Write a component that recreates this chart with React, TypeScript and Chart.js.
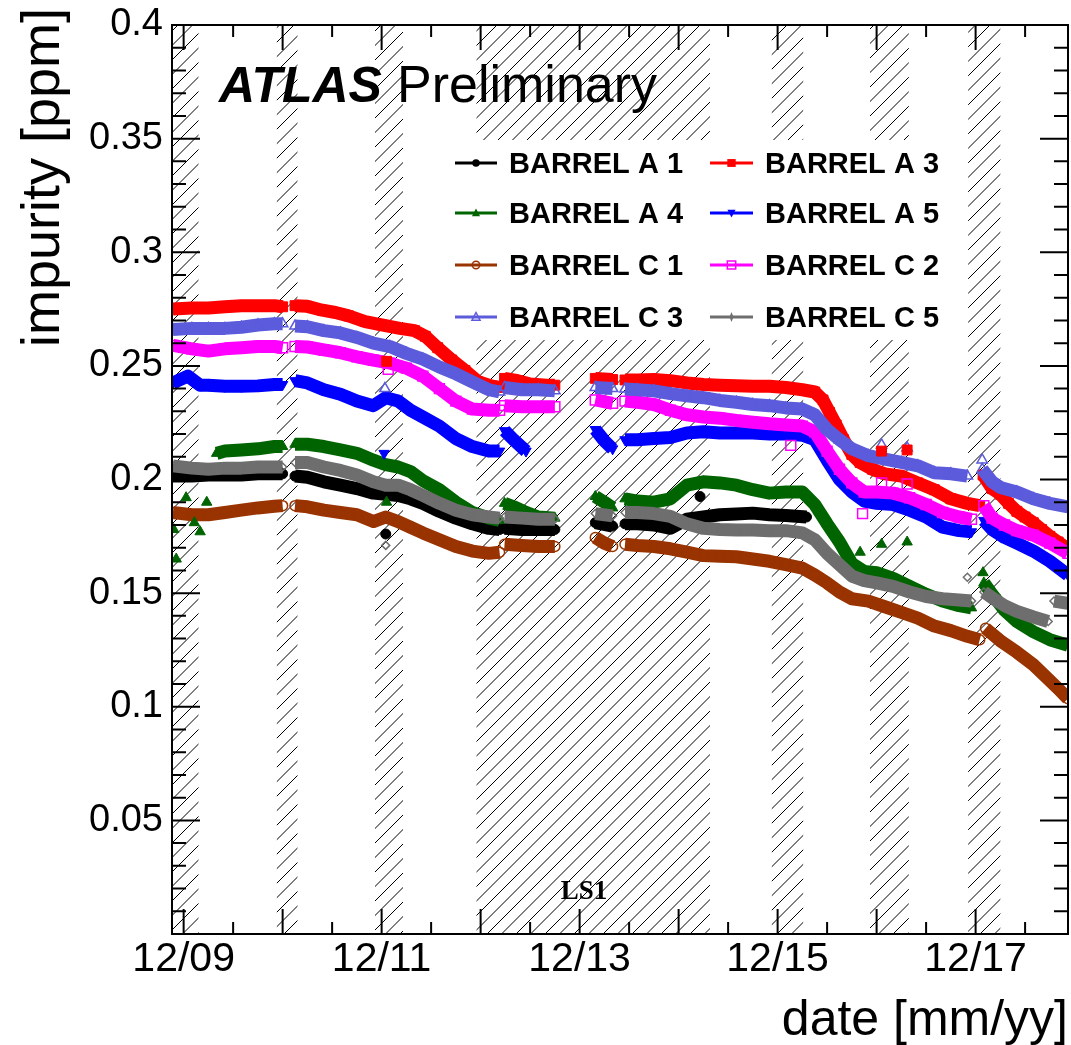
import React, { useEffect, useRef } from 'react';
import { Chart, registerables } from 'chart.js';

Chart.register(...registerables);

type Pt = [number, number | null];

// x values are months counted from Jan 2009 (so 12/09 = 11)
const X_MIN = 9.59;
const X_MAX = 118.2;
const X_LABEL_MONTHS = [11, 35, 59, 83, 107];
const X_TICK_LABELS = ['12/09', '12/11', '12/13', '12/15', '12/17'];
const Y_TICK_VALUES = [0, 0.05, 0.1, 0.15, 0.2, 0.25, 0.3, 0.35, 0.4];
const Y_TICK_LABELS = ['', '0.05', '0.1', '0.15', '0.2', '0.25', '0.3', '0.35', '0.4'];

// hatched periods (no beam / shutdowns), in months
const SHUTDOWNS: [number, number][] = [
  [9.59, 12.8], [22.3, 24.8], [34.2, 37.6], [46.5, 74.8], [82.3, 86.1], [94.2, 98.9], [106.1, 110.0],
];

const A1: Pt[] = [
  [9.7, 0.2015], [12, 0.2015], [14, 0.202], [16, 0.202], [18, 0.202], [20, 0.2025], [22, 0.2025], [23, 0.2025], [23.8, null],
  [24.5, 0.2015], [26, 0.201], [28, 0.199], [30, 0.1975], [32, 0.196], [34, 0.194], [35.5, 0.1935], [37, 0.193], [38.5, 0.1915], [40, 0.1895], [42, 0.186], [44, 0.183], [46, 0.1805], [48, 0.1785], [49.3, 0.178], [49.6, null],
  [49.9, 0.1785], [52, 0.178], [54, 0.178], [56, 0.178], [58, null],
  [60.9, 0.181], [63, 0.1795], [63.8, null],
  [64.5, 0.1805], [66, 0.1805], [68, 0.18], [70, 0.1785], [72, 0.1825], [74, 0.1835], [76, 0.1845], [78, 0.1848], [80, 0.1852], [82, 0.1845], [84, 0.1842], [86.5, 0.1835],
];
const A1_OUT: Pt[] = [[35.5, 0.176], [73.6, 0.1925]];

const A3: Pt[] = [
  [9.7, 0.275], [12, 0.2755], [14, 0.2755], [16, 0.276], [18, 0.2765], [20, 0.2765], [22, 0.2765], [23, 0.276], [23.8, null],
  [24.5, 0.2765], [26, 0.2762], [27.8, 0.2745], [29.4, 0.2735], [31, 0.272], [33, 0.2695], [35, 0.268], [37.2, 0.2665], [39, 0.2655], [40.3, 0.263], [41.8, 0.258], [43.5, 0.2526], [45.1, 0.248], [46.7, 0.243], [48.4, 0.2411], [49.3, 0.2405], [49.6, null],
  [49.9, 0.2445], [51.5, 0.2435], [53, 0.242], [55, 0.2415], [56, 0.2415], [58, null],
  [60.9, 0.2445], [63, 0.244], [63.8, null],
  [64.5, 0.2438], [66, 0.2438], [68, 0.244], [70, 0.2435], [72, 0.2425], [74, 0.2418], [76, 0.2415], [78, 0.2413], [80, 0.241], [82, 0.241], [84, 0.2405], [86, 0.2395], [87.5, 0.2385], [88.5, 0.235], [89.3, 0.2295], [90.1, 0.224], [91, 0.2175], [92, 0.211], [93, 0.2075], [94.5, 0.2045], [96, 0.2025], [98, 0.2015], [100, 0.1985], [102, 0.1955], [104, 0.1915], [106, 0.1895], [107.5, 0.1885], [107.7, null],
  [107.9, 0.202], [109, 0.196], [110, 0.1935], [111, 0.1895], [112, 0.186], [113, 0.1835], [114, 0.181], [115, 0.178], [116, 0.175], [117, 0.1725], [118.2, 0.1695],
];
const A3_OUT: Pt[] = [[35.6, 0.252], [95.6, 0.2125], [98.7, 0.213]];

const A4: Pt[] = [
  [15, 0.2115], [16, 0.2125], [18, 0.213], [20, 0.2135], [22, 0.2145], [23, 0.2145], [23.8, null],
  [24.5, 0.2155], [26, 0.2155], [28, 0.2145], [30, 0.213], [32, 0.2115], [34, 0.2085], [35.5, 0.2065], [37, 0.2055], [38.5, 0.2035], [40, 0.1995], [42, 0.1955], [44, 0.19], [46, 0.1855], [48, 0.183], [49.3, 0.182], [49.6, null],
  [49.9, 0.1895], [51, 0.188], [52.5, 0.1855], [54, 0.1835], [56, 0.183], [58, null],
  [60.9, 0.1925], [62, 0.19], [63, 0.1875], [63.8, null],
  [64.5, 0.1915], [66, 0.1905], [68, 0.19], [70, 0.1915], [72, 0.1975], [74, 0.199], [76, 0.1985], [78, 0.1975], [80, 0.1955], [82, 0.194], [84, 0.1945], [86, 0.1945], [87.5, 0.189], [89, 0.1805], [90.5, 0.1725], [92, 0.163], [93.5, 0.1595], [95, 0.159], [97, 0.1565], [99, 0.153], [101, 0.1495], [103, 0.1465], [105, 0.1445], [106.5, 0.1435], [107.5, null],
  [108, 0.1545], [109, 0.1495], [110.5, 0.1425], [112, 0.1375], [114, 0.133], [116, 0.1295], [118.2, 0.127],
];
const A4_OUT: Pt[] = [[9.8, 0.178], [10.1, 0.165], [11.3, 0.192], [12.3, 0.181], [13.0, 0.177], [13.8, 0.19], [35.6, 0.19], [93.0, 0.168], [95.6, 0.1715], [98.7, 0.1725], [107.9, 0.159]];

const A5: Pt[] = [
  [9.7, 0.2425], [11.5, 0.2455], [13, 0.2415], [14, 0.2415], [16, 0.241], [18, 0.241], [20, 0.2412], [22, 0.2418], [23, 0.2418], [23.8, null],
  [24.5, 0.2435], [26, 0.2425], [28, 0.2395], [30, 0.2375], [32, 0.2345], [34, 0.2325], [35.5, 0.236], [37, 0.2345], [38.5, 0.2305], [40, 0.2275], [42, 0.2235], [44, 0.218], [46, 0.2145], [48, 0.2125], [49.3, 0.2125], [49.6, null],
  [49.9, 0.2215], [51, 0.2175], [52.5, 0.2125], [58, null],
  [60.9, 0.222], [62, 0.217], [63, 0.2135], [63.8, null],
  [64.5, 0.2175], [66, 0.2175], [68, 0.218], [70, 0.2185], [72, 0.2205], [74, 0.221], [76, 0.2205], [78, 0.2205], [80, 0.2205], [82, 0.22], [84, 0.22], [86, 0.2195], [87.5, 0.2175], [89, 0.2085], [90.5, 0.2], [92, 0.1945], [93.5, 0.1905], [95, 0.1895], [97, 0.189], [99, 0.1865], [101, 0.1835], [103, 0.179], [105, 0.1775], [106.5, 0.177], [107.5, null],
  [108, 0.182], [109, 0.178], [110.5, 0.1745], [112, 0.172], [114, 0.1685], [116, 0.164], [118.2, 0.158],
];
const A5_OUT: Pt[] = [[35.3, 0.2115]];

const C1: Pt[] = [
  [9.7, 0.1855], [12, 0.1845], [14, 0.1845], [16, 0.1855], [18, 0.1865], [20, 0.1875], [22, 0.1882], [23, 0.1885], [23.8, null],
  [24.5, 0.1885], [26, 0.188], [28, 0.1865], [30, 0.1855], [32, 0.1845], [34, 0.1815], [35.5, 0.1835], [37, 0.1815], [38.5, 0.179], [40, 0.1765], [42, 0.1735], [44, 0.1705], [46, 0.1685], [48, 0.1675], [49.3, 0.168], [49.6, null],
  [49.9, 0.1715], [52, 0.171], [54, 0.1705], [56, 0.1705], [58, null],
  [60.9, 0.1745], [62, 0.172], [63, 0.1705], [63.8, null],
  [64.5, 0.1715], [66, 0.171], [68, 0.1705], [70, 0.1695], [72, 0.168], [74, 0.1665], [76, 0.1662], [78, 0.166], [80, 0.165], [82, 0.164], [84, 0.1625], [86, 0.161], [87.5, 0.158], [89, 0.1545], [90.5, 0.1505], [92, 0.1475], [94, 0.1465], [96, 0.144], [98, 0.1415], [100, 0.139], [102, 0.1355], [104, 0.1335], [106, 0.131], [107.5, 0.1295], [107.7, null],
  [108.2, 0.1345], [110, 0.129], [112, 0.124], [114, 0.1185], [116, 0.1115], [117, 0.108], [118.2, 0.1035],
];

const C2: Pt[] = [
  [9.7, 0.259], [12, 0.2575], [14, 0.2565], [16, 0.2575], [18, 0.258], [20, 0.2585], [22, 0.2585], [23, 0.258], [23.8, null],
  [24.5, 0.2585], [26, 0.2583], [28, 0.257], [30, 0.2558], [32, 0.254], [34, 0.2525], [36, 0.2512], [38, 0.249], [40, 0.2455], [42, 0.24], [44, 0.2345], [46, 0.231], [48, 0.2305], [49.3, 0.2305], [49.6, null],
  [49.9, 0.2325], [52, 0.232], [54, 0.232], [56, 0.232], [58, null],
  [60.9, 0.235], [63, 0.2335], [63.8, null],
  [64.5, 0.2345], [66, 0.234], [68, 0.233], [70, 0.2305], [72, 0.2285], [74, 0.2275], [76, 0.227], [78, 0.226], [80, 0.2252], [82, 0.2245], [84, 0.224], [86, 0.2235], [87.5, 0.221], [89, 0.2125], [90.5, 0.2045], [92, 0.1985], [93.5, 0.1945], [95, 0.1945], [97, 0.194], [99, 0.192], [101, 0.189], [103, 0.1855], [105, 0.1835], [106.5, 0.1825], [107.5, null],
  [108, 0.1885], [109, 0.183], [110.5, 0.18], [112, 0.1775], [114, 0.1755], [116, 0.172], [118.2, 0.1675],
];
const C2_OUT: Pt[] = [[35.8, 0.2485], [84.6, 0.215], [93.3, 0.185], [95.6, 0.1985], [98.7, 0.198]];

const C3: Pt[] = [
  [9.7, 0.266], [12, 0.2665], [14, 0.2665], [16, 0.2665], [18, 0.267], [20, 0.268], [22, 0.2685], [23, 0.2685], [23.8, null],
  [24.5, 0.2675], [26, 0.2672], [28, 0.2655], [30, 0.2645], [32, 0.2625], [34, 0.26], [36, 0.2585], [38, 0.2555], [40, 0.253], [42, 0.2495], [44, 0.2465], [46, 0.243], [48, 0.2395], [49.3, 0.2385], [49.6, null],
  [49.9, 0.2405], [52, 0.2395], [54, 0.2395], [56, 0.239], [58, null],
  [60.9, 0.2405], [63, 0.24], [63.8, null],
  [64.5, 0.2398], [66, 0.2395], [68, 0.239], [70, 0.2378], [72, 0.2368], [74, 0.236], [76, 0.2348], [78, 0.234], [80, 0.233], [82, 0.2325], [84, 0.2315], [86, 0.231], [87.5, 0.2285], [89, 0.222], [90.5, 0.2175], [92, 0.2135], [94, 0.2105], [96, 0.209], [98, 0.2075], [100, 0.206], [102, 0.203], [104, 0.2025], [106, 0.2015], [107.5, null],
  [107.8, 0.2045], [109, 0.199], [110, 0.1965], [112, 0.1945], [114, 0.1915], [116, 0.1895], [118.2, 0.188],
];
const C3_OUT: Pt[] = [[35.4, 0.24], [95.6, 0.2152], [98.7, 0.2139], [107.8, 0.2086]];

const C5: Pt[] = [
  [9.7, 0.206], [12, 0.205], [14, 0.2045], [16, 0.205], [18, 0.205], [20, 0.2055], [22, 0.2055], [23, 0.2055], [23.8, null],
  [24.5, 0.2075], [26, 0.2075], [28, 0.2055], [30, 0.204], [32, 0.202], [34, 0.199], [35.5, 0.1975], [37, 0.1975], [38.5, 0.1955], [40, 0.193], [42, 0.1895], [44, 0.1865], [46, 0.1845], [48, 0.1835], [49.3, 0.183], [49.6, null],
  [49.9, 0.1835], [52, 0.183], [54, 0.1825], [56, 0.1825], [58, null],
  [60.9, 0.185], [63, 0.184], [63.8, null],
  [64.5, 0.1855], [66, 0.1855], [68, 0.185], [70, 0.1838], [72, 0.1805], [74, 0.1785], [76, 0.178], [78, 0.1778], [80, 0.1778], [82, 0.1775], [84, 0.1775], [86, 0.1765], [87.5, 0.1735], [89, 0.1675], [90.5, 0.1625], [92, 0.1575], [93.5, 0.1555], [95, 0.1545], [97, 0.153], [99, 0.1505], [101, 0.1485], [103, 0.1475], [105, 0.147], [106.5, 0.1465], [107.5, null],
  [108, 0.1505], [109, 0.148], [110.5, 0.1445], [112, 0.142], [114, 0.1395], [115.8, 0.1375], [116.2, null],
  [116.5, 0.1465], [118.2, 0.1455],
];
const C5_OUT: Pt[] = [[35.5, 0.171], [106.0, 0.157]];

const SERIES_NAMES = ['BARREL A 1', 'BARREL A 3', 'BARREL A 4', 'BARREL A 5', 'BARREL C 1', 'BARREL C 2', 'BARREL C 3', 'BARREL C 5'];
const SERIES_DATA = [A1, A3, A4, A5, C1, C2, C3, C5];
const SERIES_OUTLIERS = [A1_OUT, A3_OUT, A4_OUT, A5_OUT, [] as Pt[], C2_OUT, C3_OUT, C5_OUT];

type Style = { color: string; marker: string; filled: boolean; rot: number; r: number };
const STYLES: Style[] = [
  { color: '#000000', marker: 'circle', filled: true, rot: 0, r: 5 },
  { color: '#ff0000', marker: 'rect', filled: true, rot: 0, r: 7 },
  { color: '#006400', marker: 'triangle', filled: true, rot: 0, r: 6 },
  { color: '#0000ff', marker: 'triangle', filled: true, rot: 180, r: 6 },
  { color: '#993300', marker: 'circle', filled: false, rot: 0, r: 5 },
  { color: '#ff00ff', marker: 'rect', filled: false, rot: 0, r: 7 },
  { color: '#5b5bdc', marker: 'triangle', filled: false, rot: 0, r: 6 },
  { color: '#6e6e6e', marker: 'rectRot', filled: false, rot: 0, r: 4 },
];

const FONT = '"Liberation Sans", Arial, sans-serif';

function drawMarker(ctx: CanvasRenderingContext2D, s: Style, x: number, y: number, r: number) {
  ctx.save();
  ctx.translate(x, y);
  ctx.rotate((s.rot * Math.PI) / 180);
  ctx.beginPath();
  if (s.marker === 'circle') ctx.arc(0, 0, r, 0, Math.PI * 2);
  else if (s.marker === 'rect') ctx.rect(-r * 0.8, -r * 0.75, r * 1.6, r * 1.5);
  else if (s.marker === 'triangle') {
    ctx.moveTo(0, -r);
    ctx.lineTo(r * 0.9, r * 0.7);
    ctx.lineTo(-r * 0.9, r * 0.7);
    ctx.closePath();
  } else {
    ctx.moveTo(0, -r);
    ctx.lineTo(r * 0.4, 0);
    ctx.lineTo(0, r);
    ctx.lineTo(-r * 0.4, 0);
    ctx.closePath();
  }
  if (s.filled) {
    ctx.fillStyle = s.color;
    ctx.fill();
  } else {
    ctx.strokeStyle = s.color;
    ctx.lineWidth = 1.5;
    ctx.stroke();
  }
  ctx.restore();
}

const hatchPlugin = {
  id: 'hatch',
  beforeDatasetsDraw(chart: any) {
    const { ctx, chartArea: a } = chart;
    const xs = chart.scales.x;
    const step = 14.5;
    ctx.save();
    ctx.strokeStyle = '#000';
    ctx.lineWidth = 1;
    for (const [m0, m1] of SHUTDOWNS) {
      const x0 = Math.max(a.left, xs.getPixelForValue(m0));
      const x1 = Math.min(a.right, xs.getPixelForValue(m1));
      ctx.save();
      ctx.beginPath();
      ctx.rect(x0, a.top, x1 - x0, a.bottom - a.top);
      ctx.clip();
      ctx.beginPath();
      const c0 = Math.floor((x0 + a.top) / step) * step;
      for (let c = c0; c <= x1 + a.bottom + step; c += step) {
        ctx.moveTo(c - a.bottom, a.bottom);
        ctx.lineTo(c - a.top, a.top);
      }
      ctx.stroke();
      ctx.restore();
    }
    ctx.restore();
  },
};

const overlayPlugin = {
  id: 'overlay',
  afterDatasetsDraw(chart: any) {
    const { ctx, chartArea: a } = chart;
    const xs = chart.scales.x;
    const ys = chart.scales.y;
    ctx.save();

    // legend box
    ctx.fillStyle = '#fff';
    ctx.fillRect(445, 140, 515, 200);
    const rows = [163, 213, 265, 317];
    const cols = [{ l0: 455, l1: 497, t: 509 }, { l0: 710, l1: 753, t: 765 }];
    ctx.font = `bold 29px ${FONT}`;
    ctx.textBaseline = 'alphabetic';
    ctx.textAlign = 'left';
    SERIES_NAMES.forEach((name, i) => {
      const r = rows[Math.floor(i / 2)];
      const c = cols[i % 2];
      const s = STYLES[i];
      ctx.strokeStyle = s.color;
      ctx.lineWidth = 3;
      ctx.beginPath();
      ctx.moveTo(c.l0, r);
      ctx.lineTo(c.l1, r);
      ctx.stroke();
      drawMarker(ctx, s, (c.l0 + c.l1) / 2, r, s.r * 0.75);
      ctx.fillStyle = '#000';
      ctx.fillText(name, c.t, r + 10);
    });

    // ATLAS Preliminary
    ctx.fillStyle = '#000';
    ctx.font = `italic bold 50px ${FONT}`;
    ctx.fillText('ATLAS', 219, 102);
    ctx.font = `52px ${FONT}`;
    ctx.fillText('Preliminary', 397, 102);

    // LS1
    ctx.font = 'bold 27px "Liberation Serif", "Times New Roman", serif';
    ctx.textAlign = 'center';
    ctx.fillText('LS1', 584, 899);

    // frame
    ctx.strokeStyle = '#000';
    ctx.lineWidth = 2;
    ctx.strokeRect(a.left, a.top, a.right - a.left, a.bottom - a.top);

    // ticks (inward, all four sides)
    ctx.lineWidth = 2;
    ctx.beginPath();
    for (let m = -1; m <= 131; m += 6) {
      if (m < X_MIN || m > X_MAX) continue;
      const px = xs.getPixelForValue(m);
      const len = (m - 11) % 12 === 0 ? 25 : 12;
      ctx.moveTo(px, a.bottom);
      ctx.lineTo(px, a.bottom - len);
      ctx.moveTo(px, a.top);
      ctx.lineTo(px, a.top + len);
    }
    for (let k = 0; k <= 40; k++) {
      const py = ys.getPixelForValue(k / 100);
      const len = k % 5 === 0 ? 28 : 14;
      ctx.moveTo(a.left, py);
      ctx.lineTo(a.left + len, py);
      ctx.moveTo(a.right, py);
      ctx.lineTo(a.right - len, py);
    }
    ctx.stroke();

    // axis titles
    ctx.fillStyle = '#000';
    ctx.font = `50px ${FONT}`;
    ctx.textAlign = 'right';
    ctx.textBaseline = 'alphabetic';
    ctx.fillText('date [mm/yy]', a.right, 1035);
    ctx.save();
    ctx.translate(59, 8);
    ctx.rotate(-Math.PI / 2);
    ctx.font = `54px ${FONT}`;
    ctx.textAlign = 'right';
    ctx.fillText('impurity [ppm]', 0, 0);
    ctx.restore();

    ctx.restore();
  },
};

export default function App() {
  const ref = useRef<HTMLCanvasElement | null>(null);

  useEffect(() => {
    if (!ref.current) return;
    const datasets: any[] = [];
    SERIES_NAMES.forEach((name, i) => {
      const s = STYLES[i];
      const order = 8 - i;
      const common = {
        borderColor: s.color,
        backgroundColor: s.color,
        pointStyle: s.marker,
        pointRotation: s.rot,
        pointRadius: s.r,
        pointBackgroundColor: s.filled ? s.color : 'rgba(0,0,0,0)',
        pointBorderColor: s.color,
        pointBorderWidth: s.filled ? 1 : 1.5,
        tension: 0,
        spanGaps: false,
      };
      datasets.push({
        ...common,
        label: name,
        data: SERIES_DATA[i].map(([x, y]) => ({ x, y })),
        showLine: true,
        borderWidth: 13,
        borderJoinStyle: 'round',
        order,
      });
      datasets.push({
        ...common,
        label: name + ' (single)',
        data: SERIES_OUTLIERS[i].map(([x, y]) => ({ x, y })),
        showLine: false,
        order: 0,
      });
    });

    const chart = new Chart(ref.current, {
      type: 'line',
      data: { datasets },
      options: {
        animation: false,
        responsive: false,
        devicePixelRatio: 1,
        events: [],
        layout: { autoPadding: false, padding: { top: 25, right: 3, left: 0, bottom: 0 } },
        plugins: { legend: { display: false }, tooltip: { enabled: false }, title: { display: false } },
        scales: {
          x: {
            type: 'linear',
            min: X_MIN,
            max: X_MAX,
            grid: { display: false, drawTicks: false },
            border: { display: false },
            afterFit: (s: any) => {
              s.height = 111;
              s.paddingLeft = 0;
              s.paddingRight = 0;
              s.paddingTop = 0;
              s.paddingBottom = 0;
            },
            afterBuildTicks: (s: any) => { s.ticks = X_LABEL_MONTHS.map((v) => ({ value: v })); },
            ticks: {
              autoSkip: false,
              maxRotation: 0,
              minRotation: 0,
              padding: 1,
              color: '#000',
              font: { family: FONT, size: 41 },
              callback: (v: any) => {
                const i = X_LABEL_MONTHS.findIndex((m) => Math.abs(m - v) < 1e-6);
                return i >= 0 ? X_TICK_LABELS[i] : '';
              },
            },
          },
          y: {
            type: 'linear',
            min: 0,
            max: 0.4,
            grid: { display: false, drawTicks: false },
            border: { display: false },
            afterFit: (s: any) => {
              s.width = 172;
              s.paddingLeft = 0;
              s.paddingRight = 0;
              s.paddingTop = 0;
              s.paddingBottom = 0;
            },
            afterBuildTicks: (s: any) => { s.ticks = Y_TICK_VALUES.map((v) => ({ value: v })); },
            ticks: {
              autoSkip: false,
              padding: 9,
              color: '#000',
              font: { family: FONT, size: 38 },
              callback: (v: any) => {
                const i = Y_TICK_VALUES.findIndex((t) => Math.abs(t - v) < 1e-9);
                return i >= 0 ? Y_TICK_LABELS[i] : '';
              },
            },
          },
        },
      } as any,
      plugins: [hatchPlugin, overlayPlugin],
    });
    return () => chart.destroy();
  }, []);

  return (
    <div style={{ position: 'absolute', left: 0, top: 0, width: 1071, height: 1045, background: '#fff' }}>
      <canvas ref={ref} width={1071} height={1045} style={{ display: 'block', width: 1071, height: 1045 }} />
    </div>
  );
}
